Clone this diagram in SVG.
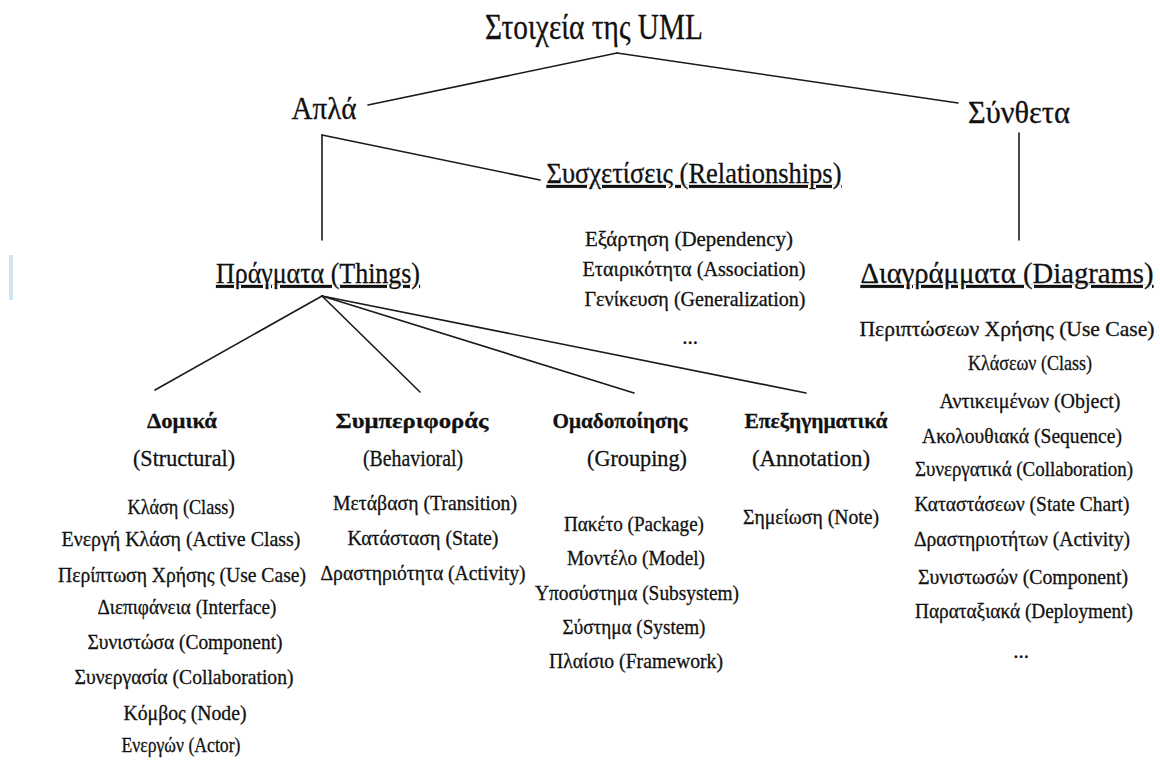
<svg xmlns="http://www.w3.org/2000/svg" width="1160" height="762" viewBox="0 0 1160 762">
  <style>
    text { font-family: "Liberation Serif", "Times New Roman", serif; fill: #111; stroke: #111; stroke-width: 0.3; text-anchor: middle; }
    .root { font-size: 35px; }
    .lvl1 { font-size: 31px; }
    .hdr { font-size: 29px; text-decoration: underline; }
    .cat { font-size: 22px; font-weight: bold; }
    .sub { font-size: 24px; }
    .item { font-size: 21px; }
    .conn line { stroke: #1a1a1a; stroke-width: 1.6; stroke-linecap: round; }
  </style>
  <rect width="1160" height="762" fill="#fff"/>
  <!-- faint margin marks -->
  <rect x="9" y="255" width="4" height="45" fill="#cfe6f2"/>

  <g class="conn" id="connectors">
    <line x1="617" y1="53" x2="368" y2="105"/>
    <line x1="617" y1="53" x2="958" y2="103"/>
    <line x1="322" y1="135" x2="322" y2="240"/>
    <line x1="322" y1="135" x2="540" y2="180"/>
    <line x1="1019" y1="133" x2="1019" y2="240"/>
    <line x1="322" y1="296" x2="155" y2="390"/>
    <line x1="322" y1="296" x2="420" y2="392"/>
    <line x1="322" y1="296" x2="634" y2="393"/>
    <line x1="322" y1="296" x2="806" y2="393"/>
  </g>

  <g id="uml-elements"><text class="root" x="594" y="39" textLength="218" lengthAdjust="spacingAndGlyphs">Στοιχεία της UML</text></g>
  <g id="simple"><text class="lvl1" x="324" y="119" textLength="65" lengthAdjust="spacingAndGlyphs">Απλά</text></g>
  <g id="composite"><text class="lvl1" x="1019" y="123" textLength="102" lengthAdjust="spacingAndGlyphs">Σύνθετα</text></g>

  <g id="relationships">
    <text class="hdr" x="694" y="183" textLength="295" lengthAdjust="spacingAndGlyphs">Συσχετίσεις (Relationships)</text>
    <text class="item" x="689" y="246" textLength="208" lengthAdjust="spacingAndGlyphs">Εξάρτηση (Dependency)</text>
    <text class="item" x="694" y="276" textLength="223" lengthAdjust="spacingAndGlyphs">Εταιρικότητα (Association)</text>
    <text class="item" x="695" y="306" textLength="221" lengthAdjust="spacingAndGlyphs">Γενίκευση (Generalization)</text>
    <text class="item" x="690" y="344">...</text>
  </g>

  <g id="things"><text class="hdr" x="318" y="283" textLength="204" lengthAdjust="spacingAndGlyphs">Πράγματα (Things)</text></g>

  <g id="diagrams">
    <text class="hdr" x="1007" y="283" textLength="293" lengthAdjust="spacingAndGlyphs">Διαγράμματα (Diagrams)</text>
    <text class="item" x="1007" y="336" textLength="295" lengthAdjust="spacingAndGlyphs">Περιπτώσεων Χρήσης (Use Case)</text>
    <text class="item" x="1030" y="370" textLength="124" lengthAdjust="spacingAndGlyphs">Κλάσεων (Class)</text>
    <text class="item" x="1030" y="408" textLength="181" lengthAdjust="spacingAndGlyphs">Αντικειμένων (Object)</text>
    <text class="item" x="1022" y="443" textLength="200" lengthAdjust="spacingAndGlyphs">Ακολουθιακά (Sequence)</text>
    <text class="item" x="1024" y="476" textLength="218" lengthAdjust="spacingAndGlyphs">Συνεργατικά (Collaboration)</text>
    <text class="item" x="1022" y="511" textLength="215" lengthAdjust="spacingAndGlyphs">Καταστάσεων (State Chart)</text>
    <text class="item" x="1022" y="546" textLength="216" lengthAdjust="spacingAndGlyphs">Δραστηριοτήτων (Activity)</text>
    <text class="item" x="1023" y="584" textLength="210" lengthAdjust="spacingAndGlyphs">Συνιστωσών (Component)</text>
    <text class="item" x="1024" y="618" textLength="218" lengthAdjust="spacingAndGlyphs">Παραταξιακά (Deployment)</text>
    <text class="item" x="1021" y="658">...</text>
  </g>

  <g id="structural">
    <text class="cat" x="182" y="428" textLength="70" lengthAdjust="spacingAndGlyphs">Δομικά</text>
    <text class="sub" x="184" y="466" textLength="102" lengthAdjust="spacingAndGlyphs">(Structural)</text>
    <text class="item" x="181" y="514" textLength="107" lengthAdjust="spacingAndGlyphs">Κλάση (Class)</text>
    <text class="item" x="181" y="546" textLength="239" lengthAdjust="spacingAndGlyphs">Ενεργή Κλάση (Active Class)</text>
    <text class="item" x="182" y="582" textLength="248" lengthAdjust="spacingAndGlyphs">Περίπτωση Χρήσης (Use Case)</text>
    <text class="item" x="187" y="614" textLength="179" lengthAdjust="spacingAndGlyphs">Διεπιφάνεια (Interface)</text>
    <text class="item" x="185" y="649" textLength="195" lengthAdjust="spacingAndGlyphs">Συνιστώσα (Component)</text>
    <text class="item" x="184" y="684" textLength="219" lengthAdjust="spacingAndGlyphs">Συνεργασία (Collaboration)</text>
    <text class="item" x="185" y="720" textLength="123" lengthAdjust="spacingAndGlyphs">Κόμβος (Node)</text>
    <text class="item" x="181" y="752" textLength="119" lengthAdjust="spacingAndGlyphs">Ενεργών (Actor)</text>
  </g>

  <g id="behavioral">
    <text class="cat" x="412" y="428" textLength="153" lengthAdjust="spacingAndGlyphs">Συμπεριφοράς</text>
    <text class="sub" x="413" y="466" textLength="100" lengthAdjust="spacingAndGlyphs">(Behavioral)</text>
    <text class="item" x="425" y="510" textLength="184" lengthAdjust="spacingAndGlyphs">Μετάβαση (Transition)</text>
    <text class="item" x="423" y="545" textLength="151" lengthAdjust="spacingAndGlyphs">Κατάσταση (State)</text>
    <text class="item" x="423" y="580" textLength="205" lengthAdjust="spacingAndGlyphs">Δραστηριότητα (Activity)</text>
  </g>

  <g id="grouping">
    <text class="cat" x="620" y="428" textLength="135" lengthAdjust="spacingAndGlyphs">Ομαδοποίησης</text>
    <text class="sub" x="637" y="466" textLength="100" lengthAdjust="spacingAndGlyphs">(Grouping)</text>
    <text class="item" x="634" y="531" textLength="140" lengthAdjust="spacingAndGlyphs">Πακέτο (Package)</text>
    <text class="item" x="636" y="565" textLength="138" lengthAdjust="spacingAndGlyphs">Μοντέλο (Model)</text>
    <text class="item" x="637" y="600" textLength="204" lengthAdjust="spacingAndGlyphs">Υποσύστημα (Subsystem)</text>
    <text class="item" x="634" y="634" textLength="143" lengthAdjust="spacingAndGlyphs">Σύστημα (System)</text>
    <text class="item" x="636" y="668" textLength="174" lengthAdjust="spacingAndGlyphs">Πλαίσιο (Framework)</text>
  </g>

  <g id="annotation">
    <text class="cat" x="816" y="428" textLength="143" lengthAdjust="spacingAndGlyphs">Επεξηγηματικά</text>
    <text class="sub" x="811" y="466" textLength="118" lengthAdjust="spacingAndGlyphs">(Annotation)</text>
    <text class="item" x="811" y="524" textLength="136" lengthAdjust="spacingAndGlyphs">Σημείωση (Note)</text>
  </g>
</svg>
